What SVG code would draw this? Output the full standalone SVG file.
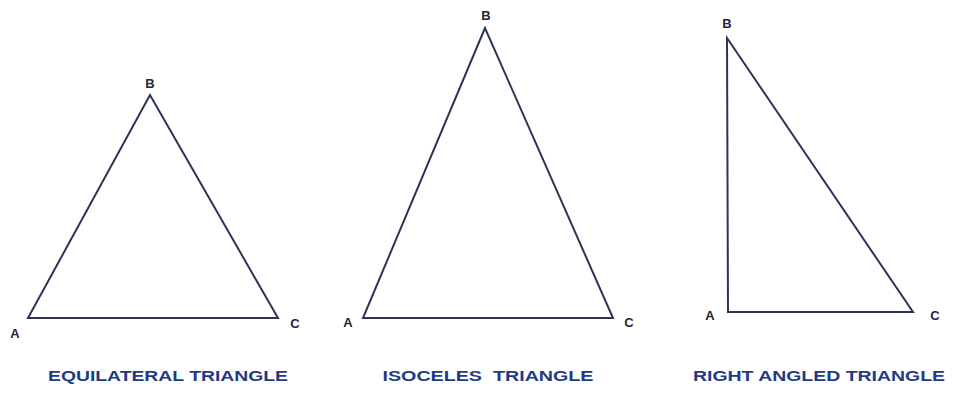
<svg xmlns="http://www.w3.org/2000/svg" width="958" height="398" viewBox="0 0 958 398">
<style>
.edge{fill:none;stroke:#2c3556;stroke-width:2;stroke-linejoin:miter}
.lbl{font-family:"Liberation Sans",Arial,sans-serif;font-weight:bold;font-size:13px;fill:#222633;text-anchor:middle}
.title{font-family:"Liberation Sans",Arial,sans-serif;font-weight:bold;font-size:14px;fill:#1f3b85;text-anchor:middle;white-space:pre}
</style>
<rect width="958" height="398" fill="#ffffff"/>
<g id="edges">
<polygon class="edge" points="150,95 28,318 278,318"/>
<polygon class="edge" points="485,28 363,318 613,318"/>
<polygon class="edge" points="727,38 728,312 913,312"/>
</g>
<g id="equilateral">
<text class="lbl" x="150" y="88">B</text>
<text class="lbl" x="15" y="338">A</text>
<text class="lbl" x="295" y="328">C</text>
<text class="title" x="168" y="381" textLength="240" lengthAdjust="spacingAndGlyphs">EQUILATERAL TRIANGLE</text>
</g>
<g id="isoceles">
<text class="lbl" x="486" y="20">B</text>
<text class="lbl" x="348" y="327">A</text>
<text class="lbl" x="629" y="327">C</text>
<text class="title" x="488" y="381" textLength="211" lengthAdjust="spacingAndGlyphs" xml:space="preserve">ISOCELES  TRIANGLE</text>
</g>
<g id="right-angled">
<text class="lbl" x="727" y="28">B</text>
<text class="lbl" x="710" y="320">A</text>
<text class="lbl" x="935" y="320">C</text>
<text class="title" x="819" y="381" textLength="252" lengthAdjust="spacingAndGlyphs">RIGHT ANGLED TRIANGLE</text>
</g>
</svg>
